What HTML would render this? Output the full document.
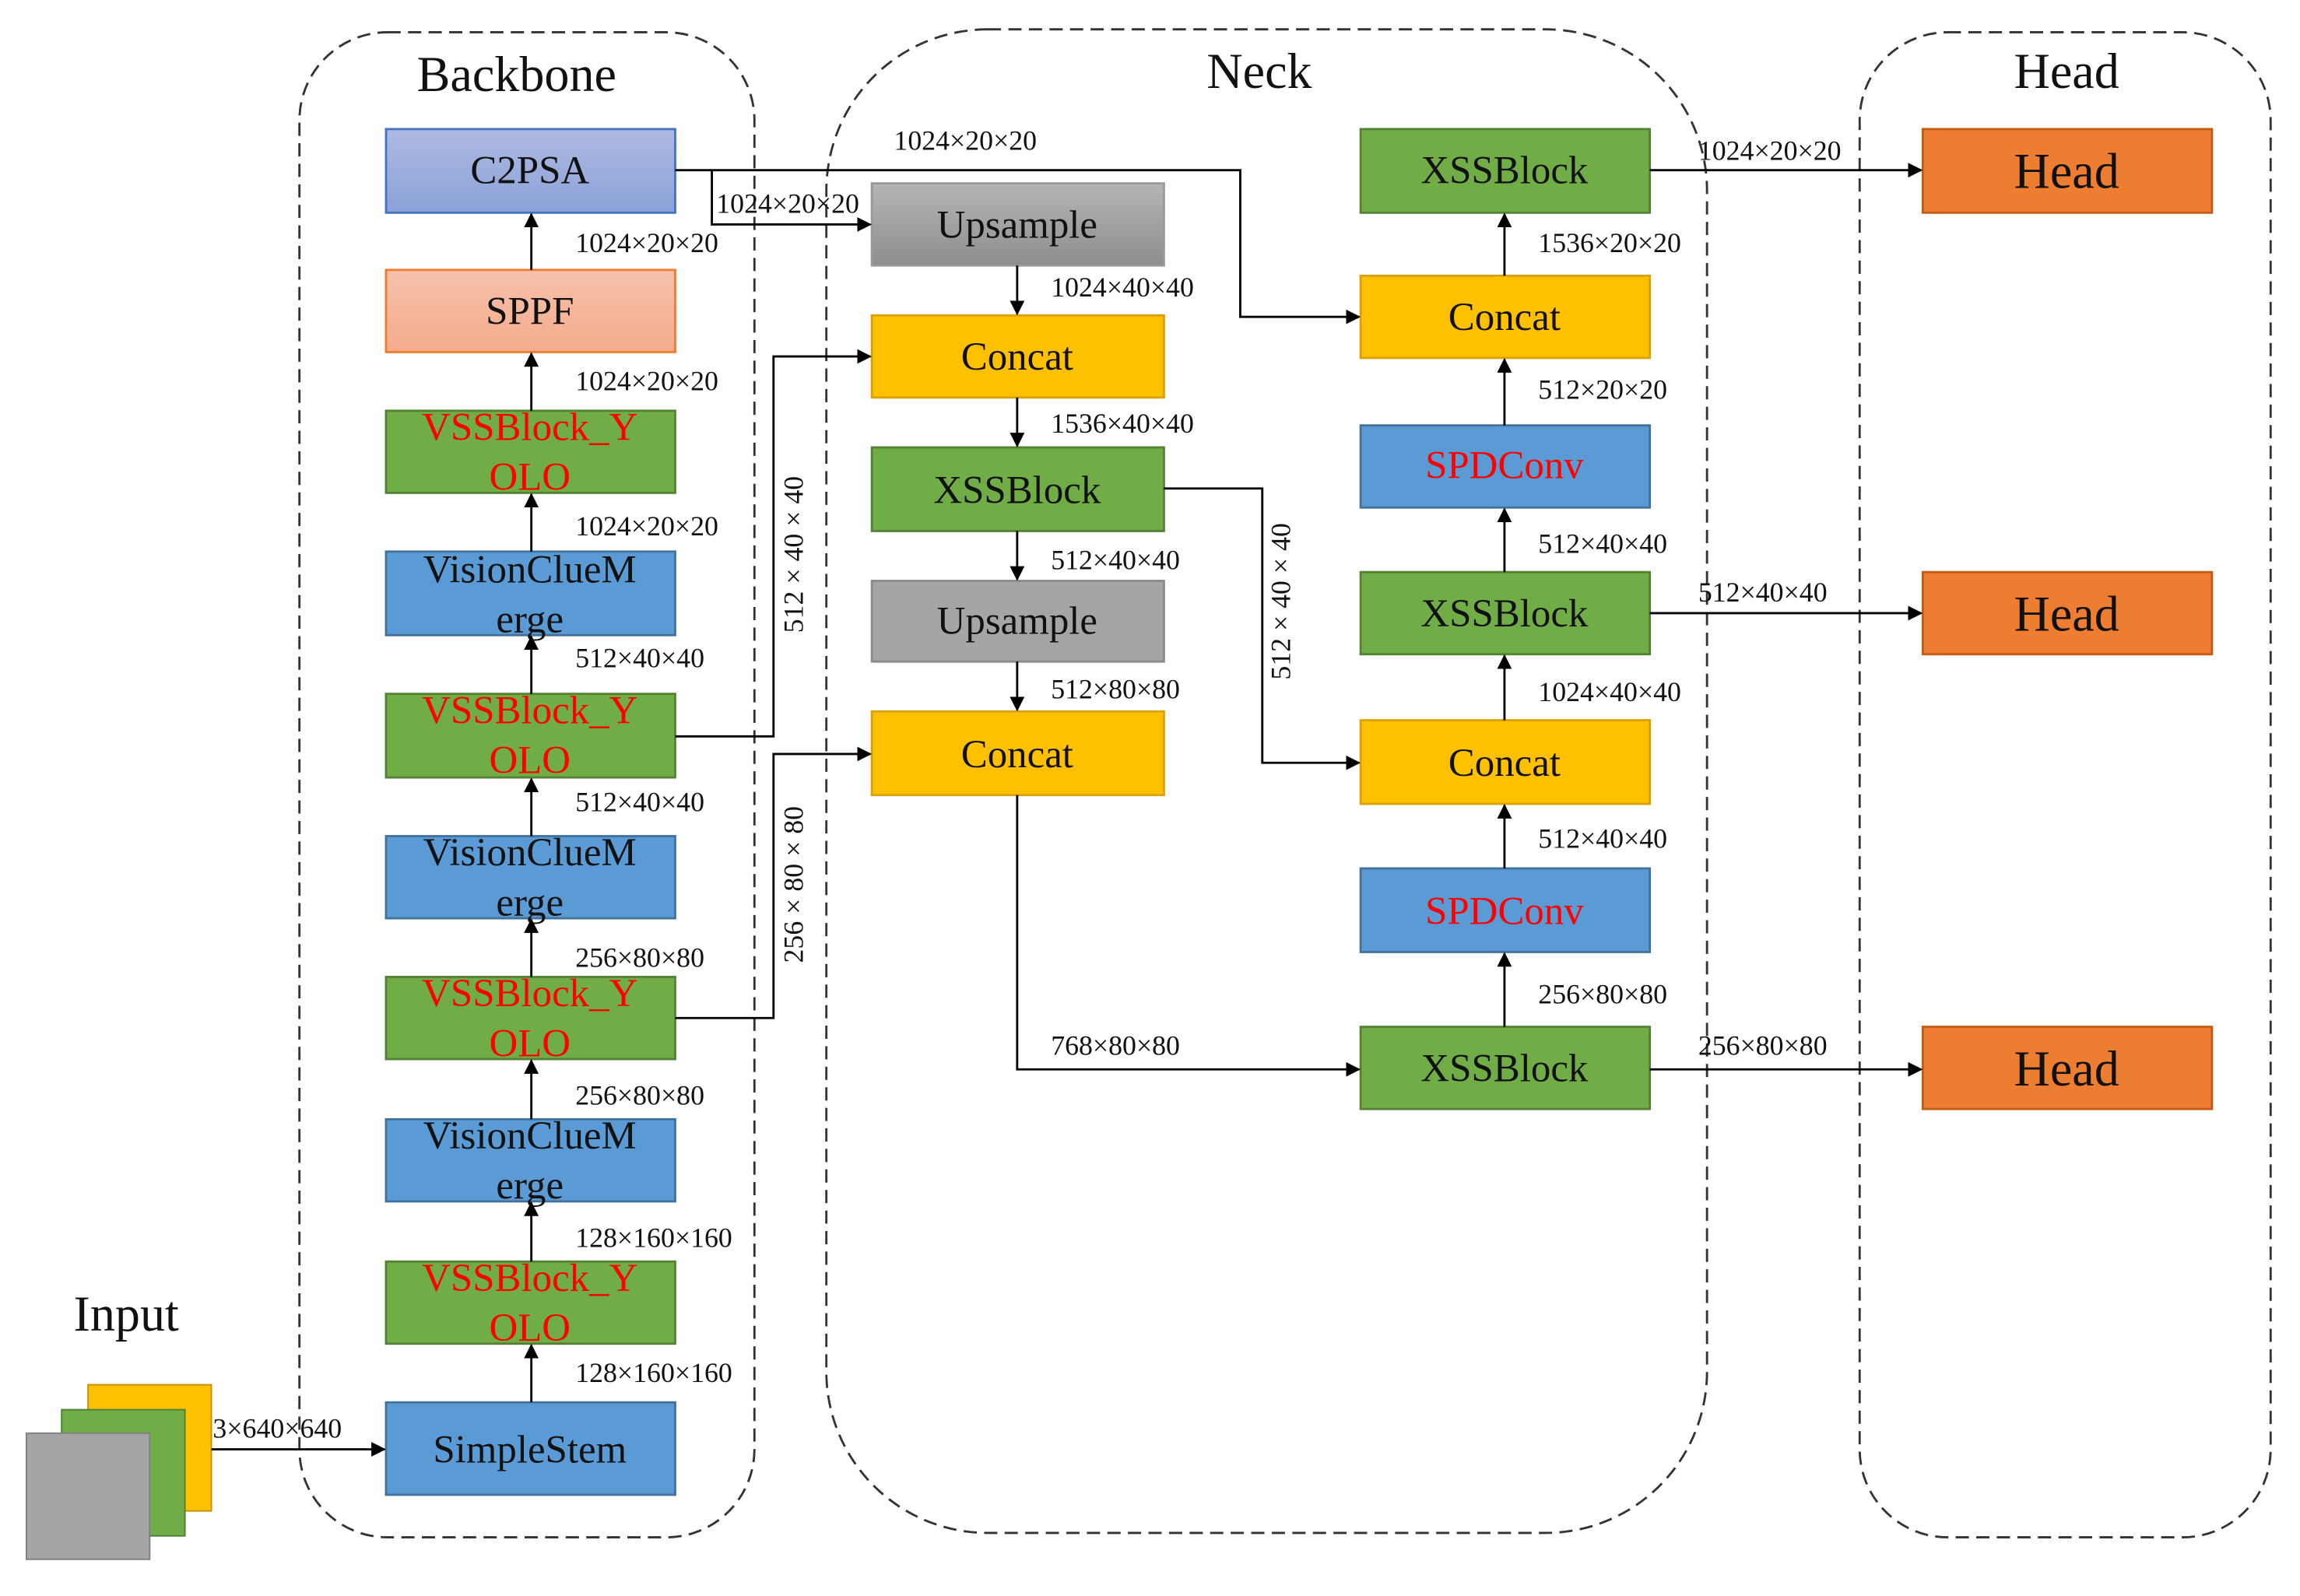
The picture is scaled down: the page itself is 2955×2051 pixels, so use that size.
<!DOCTYPE html>
<html><head><meta charset="utf-8"><style>
html,body{margin:0;padding:0;background:#fff;}
svg{display:block;}
text{font-family:"Liberation Serif",serif;}
</style></head><body>
<svg width="2955" height="2051" viewBox="0 0 1567 1088" preserveAspectRatio="none" xmlns="http://www.w3.org/2000/svg">
<defs>
<marker id="a" markerWidth="10" markerHeight="10" refX="9" refY="5" orient="auto" markerUnits="userSpaceOnUse"><path d="M0,0 L10,5 L0,10 z" fill="#000"/></marker>
<linearGradient id="gb" x1="0" y1="0" x2="0" y2="1"><stop offset="0" stop-color="#aebbe2"/><stop offset="1" stop-color="#8aa1d8"/></linearGradient>
<linearGradient id="go" x1="0" y1="0" x2="0" y2="1"><stop offset="0" stop-color="#f6c2ab"/><stop offset="1" stop-color="#f4ab8c"/></linearGradient>
<linearGradient id="gg" x1="0" y1="0" x2="0" y2="1"><stop offset="0" stop-color="#b5b5b5"/><stop offset="1" stop-color="#8e8e8e"/></linearGradient>
</defs>
<rect width="1567" height="1088" fill="#fff"/>
<g fill="none" stroke="#333" stroke-width="1.5" stroke-dasharray="9,5">
<rect x="204" y="22" width="310" height="1026" rx="60"/>
<rect x="563" y="20" width="600" height="1025" rx="110"/>
<rect x="1267" y="22" width="280" height="1026" rx="60"/>
</g>
<g font-size="34" text-anchor="middle" fill="#111">
<text x="352" y="62">Backbone</text>
<text x="858" y="60">Neck</text>
<text x="1408" y="60">Head</text>
<text x="86" y="907">Input</text>
</g>
<rect x="60" y="944" width="84" height="86" fill="#ffc000" stroke="#bf9000"/>
<rect x="42" y="961" width="84" height="86" fill="#70ad47" stroke="#507e32"/>
<rect x="18" y="977" width="84" height="86" fill="#a5a5a5" stroke="#7f7f7f"/>
<g stroke-width="1.5">
<rect x="263" y="88" width="197" height="57" fill="url(#gb)" stroke="#4472c4"/>
<rect x="263" y="184" width="197" height="56" fill="url(#go)" stroke="#ed7d31"/>
<rect x="263" y="280" width="197" height="56" fill="#70ad47" stroke="#548235"/>
<rect x="263" y="376" width="197" height="57" fill="#5b9bd5" stroke="#41719c"/>
<rect x="263" y="473" width="197" height="57" fill="#70ad47" stroke="#548235"/>
<rect x="263" y="570" width="197" height="56" fill="#5b9bd5" stroke="#41719c"/>
<rect x="263" y="666" width="197" height="56" fill="#70ad47" stroke="#548235"/>
<rect x="263" y="763" width="197" height="56" fill="#5b9bd5" stroke="#41719c"/>
<rect x="263" y="860" width="197" height="56" fill="#70ad47" stroke="#548235"/>
<rect x="263" y="956" width="197" height="63" fill="#5b9bd5" stroke="#41719c"/>
<rect x="594" y="125" width="199" height="56" fill="url(#gg)" stroke="#999"/>
<rect x="594" y="215" width="199" height="56" fill="#ffc000" stroke="#d9a200"/>
<rect x="594" y="305" width="199" height="57" fill="#70ad47" stroke="#548235"/>
<rect x="594" y="396" width="199" height="55" fill="#a5a5a5" stroke="#8a8a8a"/>
<rect x="594" y="485" width="199" height="57" fill="#ffc000" stroke="#d9a200"/>
<rect x="927" y="88" width="197" height="57" fill="#70ad47" stroke="#548235"/>
<rect x="927" y="188" width="197" height="56" fill="#ffc000" stroke="#d9a200"/>
<rect x="927" y="290" width="197" height="56" fill="#5b9bd5" stroke="#41719c"/>
<rect x="927" y="390" width="197" height="56" fill="#70ad47" stroke="#548235"/>
<rect x="927" y="491" width="197" height="57" fill="#ffc000" stroke="#d9a200"/>
<rect x="927" y="592" width="197" height="57" fill="#5b9bd5" stroke="#41719c"/>
<rect x="927" y="700" width="197" height="56" fill="#70ad47" stroke="#548235"/>
<rect x="1310" y="88" width="197" height="57" fill="#ed7d31" stroke="#c55a11"/>
<rect x="1310" y="390" width="197" height="56" fill="#ed7d31" stroke="#c55a11"/>
<rect x="1310" y="700" width="197" height="56" fill="#ed7d31" stroke="#c55a11"/>
</g>
<g font-size="27" text-anchor="middle" fill="#111">
<text x="361" y="125">C2PSA</text>
<text x="361" y="221">SPPF</text>
<text x="361" y="397">VisionClueM</text><text x="361" y="431">erge</text>
<text x="361" y="590">VisionClueM</text><text x="361" y="624">erge</text>
<text x="361" y="783">VisionClueM</text><text x="361" y="817">erge</text>
<text x="361" y="997">SimpleStem</text>
<text x="693" y="162">Upsample</text>
<text x="693" y="252">Concat</text>
<text x="693" y="343">XSSBlock</text>
<text x="693" y="432">Upsample</text>
<text x="693" y="523">Concat</text>
<text x="1025" y="125">XSSBlock</text>
<text x="1025" y="225">Concat</text>
<text x="1025" y="427">XSSBlock</text>
<text x="1025" y="529">Concat</text>
<text x="1025" y="737">XSSBlock</text>
</g>
<g font-size="34" text-anchor="middle" fill="#111">
<text x="1408" y="128">Head</text>
<text x="1408" y="430">Head</text>
<text x="1408" y="740">Head</text>
</g>
<g font-size="27" text-anchor="middle" fill="#ff0000">
<text x="361" y="300">VSSBlock_Y</text><text x="361" y="334">OLO</text>
<text x="361" y="493">VSSBlock_Y</text><text x="361" y="527">OLO</text>
<text x="361" y="686">VSSBlock_Y</text><text x="361" y="720">OLO</text>
<text x="361" y="880">VSSBlock_Y</text><text x="361" y="914">OLO</text>
<text x="1025" y="326">SPDConv</text>
<text x="1025" y="630">SPDConv</text>
</g>
<g stroke="#000" stroke-width="1.5" fill="none" marker-end="url(#a)">
<line x1="362" y1="956" x2="362" y2="917"/>
<line x1="362" y1="860" x2="362" y2="820"/>
<line x1="362" y1="763" x2="362" y2="723"/>
<line x1="362" y1="666" x2="362" y2="627"/>
<line x1="362" y1="570" x2="362" y2="531"/>
<line x1="362" y1="473" x2="362" y2="434"/>
<line x1="362" y1="376" x2="362" y2="337"/>
<line x1="362" y1="280" x2="362" y2="241"/>
<line x1="362" y1="184" x2="362" y2="146"/>
<line x1="144" y1="988" x2="262" y2="988"/>
<line x1="693" y1="181" x2="693" y2="214"/>
<line x1="693" y1="271" x2="693" y2="304"/>
<line x1="693" y1="362" x2="693" y2="395"/>
<line x1="693" y1="451" x2="693" y2="484"/>
<line x1="1025" y1="700" x2="1025" y2="650"/>
<line x1="1025" y1="592" x2="1025" y2="549"/>
<line x1="1025" y1="491" x2="1025" y2="447"/>
<line x1="1025" y1="390" x2="1025" y2="347"/>
<line x1="1025" y1="290" x2="1025" y2="245"/>
<line x1="1025" y1="188" x2="1025" y2="146"/>
<polyline points="460,116 845,116 845,216 926,216"/>
<polyline points="485,116 485,153 593,153"/>
<polyline points="460,502 527,502 527,243 593,243"/>
<polyline points="460,694 527,694 527,514 593,514"/>
<polyline points="793,333 860,333 860,520 926,520"/>
<polyline points="693,542 693,729 926,729"/>
<line x1="1124" y1="116" x2="1309" y2="116"/>
<line x1="1124" y1="418" x2="1309" y2="418"/>
<line x1="1124" y1="729" x2="1309" y2="729"/>
</g>
<g font-size="19" fill="#111">
<text x="392" y="172">1024×20×20</text>
<text x="392" y="266">1024×20×20</text>
<text x="392" y="365">1024×20×20</text>
<text x="392" y="455">512×40×40</text>
<text x="392" y="553">512×40×40</text>
<text x="392" y="659">256×80×80</text>
<text x="392" y="753">256×80×80</text>
<text x="392" y="850">128×160×160</text>
<text x="392" y="942">128×160×160</text>
<text x="145" y="980">3×640×640</text>
<text x="609" y="102">1024×20×20</text>
<text x="488" y="145">1024×20×20</text>
<text x="716" y="202">1024×40×40</text>
<text x="716" y="295">1536×40×40</text>
<text x="716" y="388">512×40×40</text>
<text x="716" y="476">512×80×80</text>
<text x="716" y="719">768×80×80</text>
<text x="1048" y="172">1536×20×20</text>
<text x="1048" y="272">512×20×20</text>
<text x="1048" y="377">512×40×40</text>
<text x="1048" y="478">1024×40×40</text>
<text x="1048" y="578">512×40×40</text>
<text x="1048" y="684">256×80×80</text>
<text x="1157" y="109">1024×20×20</text>
<text x="1157" y="410">512×40×40</text>
<text x="1157" y="719">256×80×80</text>
<text transform="translate(547,378) rotate(-90)" text-anchor="middle">512 × 40 × 40</text>
<text transform="translate(547,603) rotate(-90)" text-anchor="middle">256 × 80 × 80</text>
<text transform="translate(879,410) rotate(-90)" text-anchor="middle">512 × 40 × 40</text>
</g>
</svg>
</body></html>
